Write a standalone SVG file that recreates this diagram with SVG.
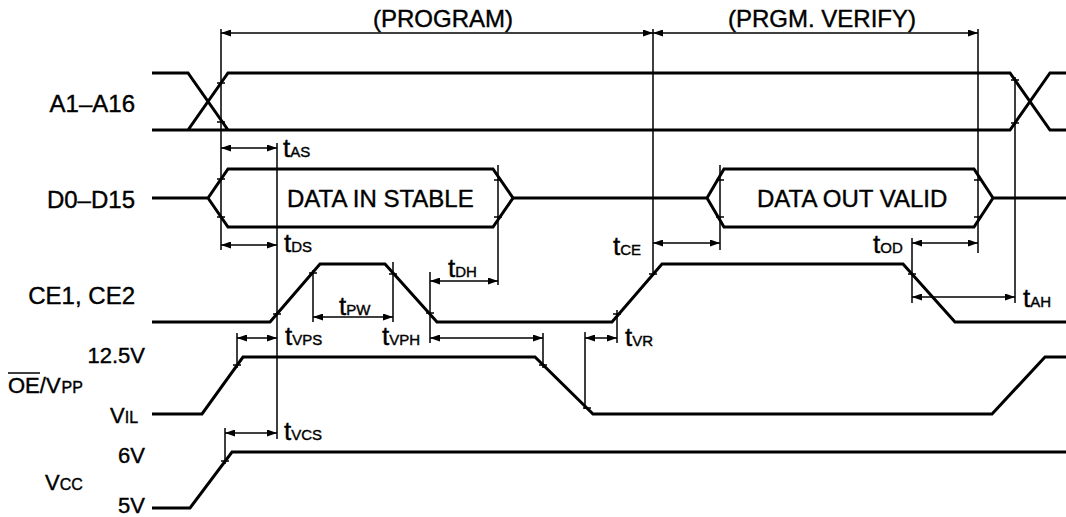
<svg xmlns="http://www.w3.org/2000/svg" width="1066" height="517" viewBox="0 0 1066 517">
<style>
.w{fill:none;stroke:#000;stroke-width:3;stroke-linejoin:miter}
.d{fill:none;stroke:#000;stroke-width:1.5}
.a{fill:none;stroke:#000;stroke-width:1.5;marker-start:url(#ah);marker-end:url(#ah)}
.tk{fill:none;stroke:#000;stroke-width:1.5}
text{font-family:"Liberation Sans",Arial,sans-serif;fill:#000;stroke:#000;stroke-width:0.4}
.lb{font-size:24px}
.v{font-size:22px}
.big{font-size:24px}
.t{font-size:26px}
.s{font-size:15px}
.ss{font-size:16px}
</style>
<defs>
<marker id="ah" viewBox="0 0 10 7" refX="10" refY="3.5" markerWidth="10" markerHeight="7" markerUnits="userSpaceOnUse" orient="auto-start-reverse">
<path d="M0,0 L10,3.5 L0,7 z" fill="#000"/>
</marker>
</defs>
<rect width="1066" height="517" fill="#fff"/>

<g id="headings">
<text class="lb" x="373" y="27">(PROGRAM)</text>
<text class="lb" x="728" y="27">(PRGM. VERIFY)</text>
</g>

<g id="sig-A">
<text class="lb" x="135" y="112" text-anchor="end">A1–A16</text>
<path class="w" d="M152,73 H188 L228,130 H152 M152,130 H188 L228,73 H1010 L1050,130 H1066 M228,130 H1010 L1050,73 H1066"/>
</g>

<g id="sig-D">
<text class="lb" x="135" y="208" text-anchor="end">D0–D15</text>
<path class="w" d="M152,198 H208 L228,169 H493 L513,198 L493,227 H228 L208,198"/>
<path class="w" d="M513,198 H707 L724,169 H974 L993,198 L974,227 H724 L707,198 M993,198 H1066"/>
<text class="big" x="287" y="207">DATA IN STABLE</text>
<text class="big" x="757" y="207">DATA OUT VALID</text>
</g>

<g id="sig-CE">
<text class="lb" x="135" y="304" text-anchor="end">CE1, CE2</text>
<path class="w" d="M152,322 H270 L320,264 H385 L437,322 H612 L662,264 H903 L955,322 H1066"/>
</g>

<g id="sig-OE">
<text class="v" x="145" y="363" text-anchor="end">12.5V</text>
<text class="v" x="8" y="393">OE/V<tspan class="ss" dx="1">PP</tspan></text>
<line class="d" x1="8" y1="373" x2="40" y2="373"/>
<text class="v" x="110" y="423">V<tspan class="ss">IL</tspan></text>
<path class="w" d="M152,414 H202 L243,357 H535 L593,414 H992 L1045,357 H1066"/>
</g>

<g id="sig-VCC">
<text class="v" x="145" y="463" text-anchor="end">6V</text>
<text class="v" x="45" y="490">V<tspan class="ss">CC</tspan></text>
<text class="v" x="145" y="513" text-anchor="end">5V</text>
<path class="w" d="M152,508 H190 L232,452 H1066"/>
</g>

<g id="connectors">
<path class="d" d="M221,29 V250 M277,143 V439 M653,29 V275 M978,29 V253 M1015,77 V303 M498,165 V285 M720,165 V250 M912,238 V303 M313,270 V322 M393,262 V322 M430,272 V343 M543,333 V368 M237,333 V368 M585,332 V409 M617,310 V343 M225,428 V464"/>
<path class="tk" d="M217,83 h8 M217,122 h8 M1011,80 h8 M1011,123 h8 M217,179 h8 M217,217 h8 M494,180 h8 M494,217 h8 M716,180 h8 M716,217 h8 M974,180 h8 M974,217 h8 M273,314 h8 M309,273 h8 M389,274 h8 M426,313 h8 M613,314 h8 M649,274 h8 M908,274 h8 M233,365 h8 M539,365 h8 M583,408 h8 M221,461 h8"/>
<line class="a" x1="221" y1="33" x2="653" y2="33"/>
<line class="a" x1="653" y1="33" x2="978" y2="33"/>
<line class="a" x1="221" y1="148" x2="277" y2="148"/>
<line class="a" x1="221" y1="245" x2="277" y2="245"/>
<line class="a" x1="430" y1="281" x2="498" y2="281"/>
<line class="a" x1="313" y1="317" x2="393" y2="317"/>
<line class="a" x1="237" y1="338" x2="277" y2="338"/>
<line class="a" x1="430" y1="338" x2="543" y2="338"/>
<line class="a" x1="585" y1="338" x2="617" y2="338"/>
<line class="a" x1="653" y1="243" x2="720" y2="243"/>
<line class="a" x1="912" y1="243" x2="978" y2="243"/>
<line class="a" x1="912" y1="297" x2="1015" y2="297"/>
<line class="a" x1="225" y1="433" x2="277" y2="433"/>
</g>

<g id="timing-labels">
<text class="t" x="283" y="157">t<tspan class="s">AS</tspan></text>
<text class="t" x="284" y="252">t<tspan class="s">DS</tspan></text>
<text class="t" x="448" y="277">t<tspan class="s">DH</tspan></text>
<text class="t" x="339" y="315">t<tspan class="s">PW</tspan></text>
<text class="t" x="285" y="345">t<tspan class="s">VPS</tspan></text>
<text class="t" x="382" y="345">t<tspan class="s">VPH</tspan></text>
<text class="t" x="625" y="346">t<tspan class="s">VR</tspan></text>
<text class="t" x="613" y="255">t<tspan class="s">CE</tspan></text>
<text class="t" x="873" y="253">t<tspan class="s">OD</tspan></text>
<text class="t" x="1023" y="307">t<tspan class="s">AH</tspan></text>
<text class="t" x="284" y="440">t<tspan class="s">VCS</tspan></text>
</g>
</svg>
